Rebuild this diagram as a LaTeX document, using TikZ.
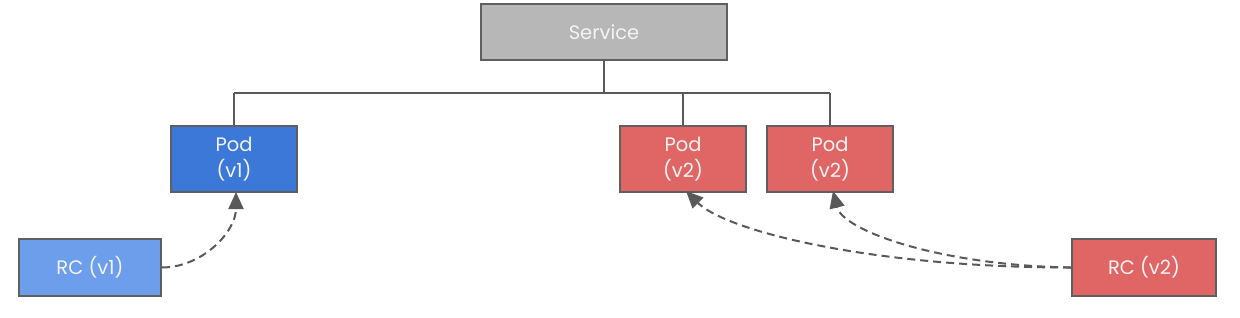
\documentclass[tikz,border=0pt]{standalone}
\usepackage{fontspec}
\setmainfont{Poppins}
\usetikzlibrary{arrows.meta}
\definecolor{edgegray}{HTML}{5F5F5F}
\definecolor{servfill}{HTML}{B7B7B7}
\definecolor{bluedark}{HTML}{3C78D8}
\definecolor{bluelight}{HTML}{6D9EEB}
\definecolor{redfill}{HTML}{E06666}
\definecolor{linegray}{HTML}{595959}
\definecolor{txt}{HTML}{F3F3F3}
\tikzset{
  box/.style={draw=edgegray, line width=2pt, text=txt, align=center,
    font=\fontsize{19.5}{26}\selectfont, inner sep=0pt},
  podbox/.style={box, minimum width=126pt, minimum height=66pt},
  rcbox/.style={box, minimum width=143pt, minimum height=57pt},
  bus/.style={draw=linegray, line width=1.8pt},
  rclink/.style={draw=linegray, line width=2pt, dash pattern=on 8pt off 5pt,
    -{Triangle[length=17pt,width=15pt]}}
}
\begin{document}
\begin{tikzpicture}[x=1pt,y=-1pt]
\useasboundingbox (0,0) rectangle (1240,317);
\node[box, fill=servfill, minimum width=246pt, minimum height=56pt] (svc) at (604,32) {Service};
\node[podbox, fill=bluedark] (p1) at (234,159) {Pod\\(v1)};
\node[podbox, fill=redfill] (p2) at (683,159) {Pod\\(v2)};
\node[podbox, fill=redfill] (p3) at (830,159) {Pod\\(v2)};
\node[rcbox, fill=bluelight, minimum width=142pt] (rc1) at (90,267.5) {RC (v1)};
\node[rcbox, fill=redfill, minimum width=144pt] (rc2) at (1144,267.5) {RC (v2)};
\coordinate (busmid) at (604,93);
\coordinate (busl) at (234,93);
\coordinate (busa) at (683,93);
\coordinate (busr) at (830,93);
\draw[bus] (svc.south) -- (busmid);
\draw[bus] (busl) -- (busr);
\draw[bus] (busl) -- (p1.north);
\draw[bus] (busa) -- (p2.north);
\draw[bus] (busr) -- (p3.north);
\draw[rclink] (rc1.east) .. controls +(40,0) and +(0,40) .. ([xshift=2pt,yshift=1pt]p1.south);
\draw[rclink] (rc2.west) .. controls +(-200,0) and +(40,40) .. ([xshift=3pt,yshift=2pt]p2.south);
\draw[rclink] (rc2.west) .. controls +(-130,-2) and +(10,40) .. ([xshift=3pt,yshift=2pt]p3.south);
\end{tikzpicture}
\end{document}
